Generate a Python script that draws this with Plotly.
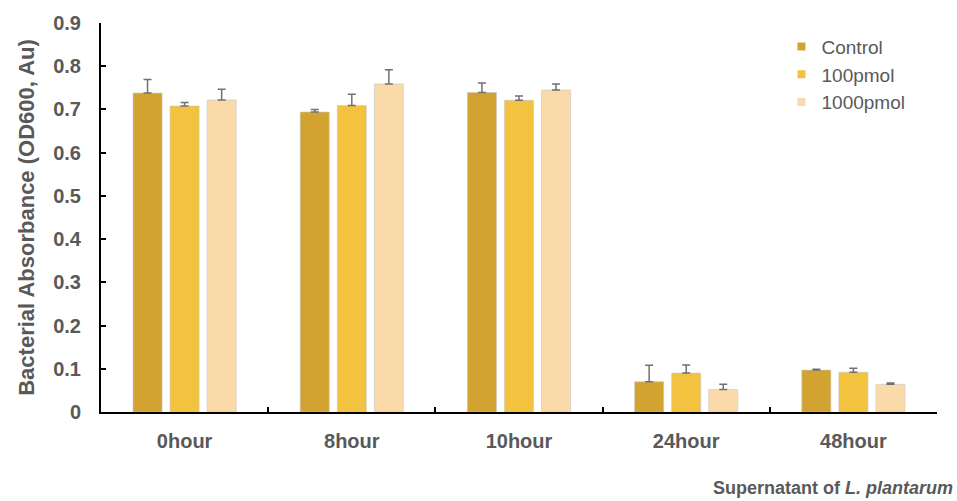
import plotly.graph_objects as go

# Sampling times (x categories)
times = ["0hour", "8hour", "10hour", "24hour", "48hour"]

# Mean optical density at 600 nm for each treatment
control = [0.738, 0.694, 0.739, 0.070, 0.097]
pmol_100 = [0.708, 0.709, 0.721, 0.090, 0.092]
pmol_1000 = [0.722, 0.759, 0.745, 0.052, 0.064]

# Standard deviations (upper error bars)
control_err = [0.031, 0.006, 0.022, 0.038, 0.002]
pmol_100_err = [0.008, 0.026, 0.010, 0.019, 0.009]
pmol_1000_err = [0.025, 0.033, 0.014, 0.012, 0.003]

y_ticks = [0, 0.1, 0.2, 0.3, 0.4, 0.5, 0.6, 0.7, 0.8, 0.9]
y_tick_text = ["0", "0.1", "0.2", "0.3", "0.4", "0.5", "0.6", "0.7", "0.8", "0.9"]

series = [
    ("Control", control, control_err, "#D3A332"),
    ("100pmol", pmol_100, pmol_100_err, "#F3C23E"),
    ("1000pmol", pmol_1000, pmol_1000_err, "#FADAA8"),
]

FONT = "Liberation Sans, Arial, sans-serif"
GRAY = "#595959"

fig = go.Figure()
for name, vals, errs, color in series:
    fig.add_trace(go.Bar(
        name=name,
        x=times,
        y=vals,
        showlegend=False,
        marker=dict(color=color, line=dict(color="rgba(200,200,200,0.6)", width=1)),
        error_y=dict(type="data", array=errs, symmetric=False, arrayminus=[0] * len(errs),
                     color="#707070", thickness=1.5, width=4),
    ))

# Legend entries with small square swatches
for name, vals, errs, color in series:
    fig.add_trace(go.Scatter(
        name=name,
        x=[None], y=[None],
        mode="markers",
        marker=dict(symbol="square", size=8, color=color),
        showlegend=True,
    ))

fig.update_layout(
    width=957,
    height=501,
    margin=dict(l=101, r=20, t=15, b=89),
    plot_bgcolor="white",
    paper_bgcolor="white",
    barmode="group",
    bargap=0.335,
    bargroupgap=0.216,
    font=dict(family=FONT, color=GRAY),
    showlegend=True,
    legend=dict(
        x=0.814, y=0.988, xanchor="left", yanchor="top",
        font=dict(family=FONT, size=19, color=GRAY),
        bgcolor="rgba(0,0,0,0)",
        itemwidth=30,
        tracegroupgap=0,
    ),
    xaxis=dict(
        type="category",
        showline=True, linecolor="black", linewidth=2,
        ticks="inside", ticklen=5, tickwidth=2, tickcolor="black",
        tickson="boundaries",
        tickfont=dict(family=FONT, size=20, color=GRAY, weight="bold"),
        ticklabelstandoff=10,
        showgrid=False,
        zeroline=False,
    ),
    yaxis=dict(
        range=[0, 0.9],
        tickvals=y_ticks,
        ticktext=y_tick_text,
        showline=True, linecolor="black", linewidth=2,
        ticks="inside", ticklen=5, tickwidth=2, tickcolor="black",
        tickfont=dict(family=FONT, size=20, color=GRAY, weight="bold"),
        ticklabelstandoff=14,
        showgrid=False,
        zeroline=False,
        title=dict(text="Bacterial Absorbance (OD600, Au)",
                   font=dict(family=FONT, size=22, color=GRAY, weight="bold"),
                   standoff=12),
    ),
)

fig.add_annotation(
    text="Supernatant of <i>L. plantarum</i>",
    xref="paper", yref="paper",
    x=1.021, y=-0.195, xanchor="right", yanchor="middle",
    showarrow=False,
    font=dict(family=FONT, size=18, color=GRAY, weight="bold"),
)

fig.write_html("out.html")
